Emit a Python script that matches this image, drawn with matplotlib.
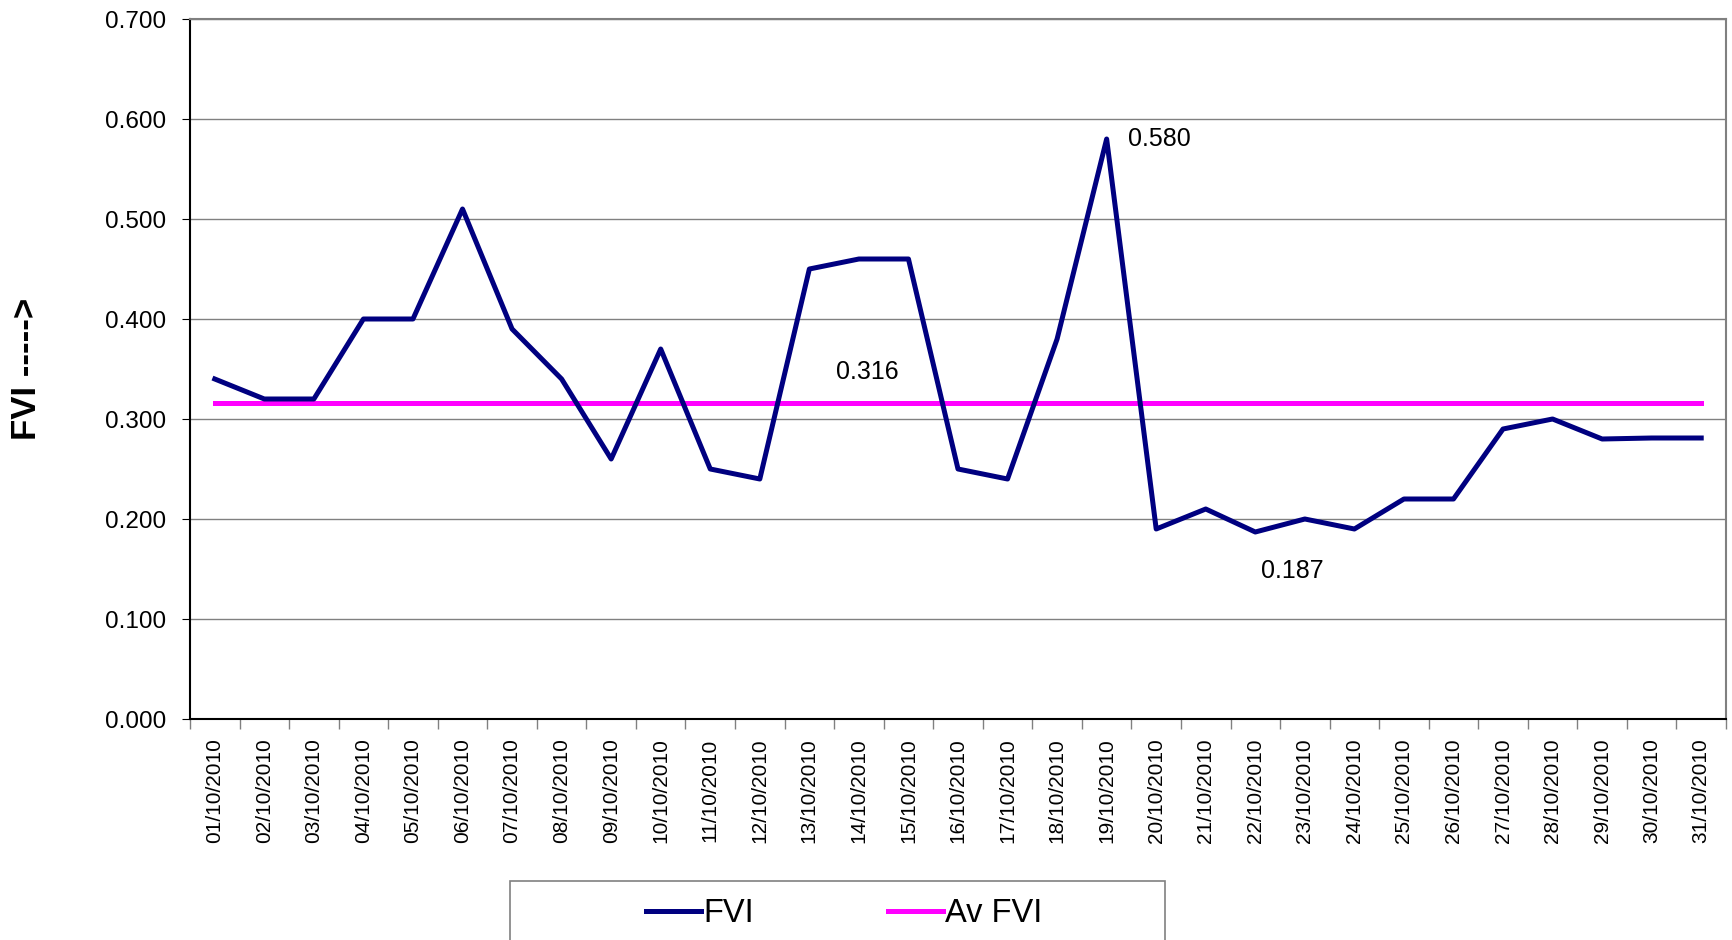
"""Daily FVI for October 2010 against its monthly average."""
import matplotlib
matplotlib.use('Agg')
import matplotlib.pyplot as plt
from matplotlib.patches import Rectangle
from matplotlib.ticker import FixedLocator, FormatStrFormatter

plt.rcParams['font.family'] = ['Liberation Sans', 'DejaVu Sans']

dates = [f'{d:02d}/10/2010' for d in range(1, 32)]
fvi = [0.340, 0.320, 0.320, 0.400, 0.400, 0.510, 0.390, 0.340, 0.260, 0.370,
       0.250, 0.240, 0.450, 0.460, 0.460, 0.250, 0.240, 0.380, 0.580, 0.190,
       0.210, 0.187, 0.200, 0.190, 0.220, 0.220, 0.290, 0.300, 0.280, 0.281,
       0.281]
av_fvi = 0.316
# labelled points: (day index, value, text offset in points)
labels = [(18, 0.580, (38, 0)), (21, 0.187, (27, -28)), (13, av_fvi, (6, 22))]

fig = plt.figure(figsize=(17.32, 9.40), dpi=100)
ax = fig.add_axes([190 / 1732, 1 - 719 / 940, (1726 - 190) / 1732, (719 - 19) / 940])

x = list(range(len(dates)))
ax.plot(x, fvi, color='#000080', lw=3.6, label='FVI', zorder=3)
ax.plot(x, [av_fvi] * len(x), color='#ff00ff', lw=3.6, label='Av FVI', zorder=2)

for i, v, off in labels:
    ax.annotate(f'{v:.3f}', (i, v), xytext=off, textcoords='offset points',
                ha='center', va='center', fontsize=18)

ax.set_xlim(-0.5, len(dates) - 0.5)
ax.set_ylim(0, 0.7)
ax.set_yticks([i / 10 for i in range(8)])
ax.yaxis.set_major_formatter(FormatStrFormatter('%.3f'))
ax.grid(axis='y', color='#808080', lw=1)
ax.set_axisbelow(True)

ax.set_xticks(x)
ax.set_xticklabels(dates, rotation=90, fontsize=15)
ax.xaxis.set_minor_locator(FixedLocator([i - 0.5 for i in range(len(dates) + 1)]))
ax.tick_params(axis='x', which='major', length=0, pad=14)
ax.tick_params(axis='x', which='minor', length=7, width=1, color='#808080')
ax.tick_params(axis='y', length=6, labelsize=17.5, pad=11)

for side in ('top', 'right'):
    ax.spines[side].set_color('#808080')
    ax.spines[side].set_linewidth(1.5)
for side in ('left', 'bottom'):
    ax.spines[side].set_color('black')
    ax.spines[side].set_linewidth(1.5)

fig.text(27 / 1732, 1 - 369 / 940, 'FVI ----->', rotation=90, fontsize=25,
         fontweight='bold', ha='center', va='center')

fig.patches.append(Rectangle((510 / 1732, -0.05), (1165 - 510) / 1732, 0.05 + 59 / 940,
                             transform=fig.transFigure, facecolor='white',
                             edgecolor='#808080', lw=1.2))
fig.legend(loc='center left', bbox_to_anchor=(646 / 1732, 1 - 914 / 940), ncol=2,
           frameon=False, fontsize=23.5, handlelength=1.7, handletextpad=0.05,
           columnspacing=4.1, borderaxespad=0, borderpad=0)

fig.savefig('out.png', dpi=100)
